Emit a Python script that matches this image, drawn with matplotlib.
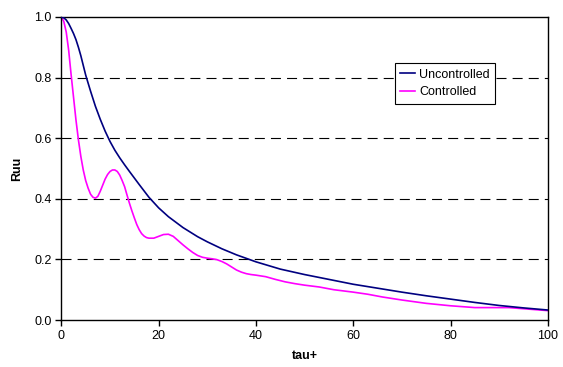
import matplotlib.pyplot as plt

plt.rcParams['font.family'] = ['Liberation Sans', 'DejaVu Sans']

# uncontrolled correlation
tau_unc = [0, 0.5, 1, 1.5, 2, 2.5, 3, 3.5, 4, 4.5, 5, 6, 7, 8, 9, 10, 11, 12, 13, 14,
           16, 18, 20, 22, 25, 28, 30, 33, 36, 40, 45, 50, 55, 60, 65, 70, 75, 80, 85,
           90, 95, 100]
ruu_unc = [1.0, 0.997, 0.99, 0.978, 0.962, 0.945, 0.925, 0.9, 0.872, 0.84, 0.808,
           0.755, 0.705, 0.662, 0.623, 0.589, 0.56, 0.535, 0.512, 0.49, 0.447, 0.405,
           0.370, 0.341, 0.305, 0.275, 0.258, 0.235, 0.215, 0.192, 0.168, 0.15, 0.134,
           0.118, 0.105, 0.092, 0.08, 0.069, 0.058, 0.048, 0.04, 0.033]

# controlled correlation
tau_con = [0, 0.5, 1, 1.5, 2, 2.5, 3, 3.5, 4, 4.5, 5, 5.5, 6, 6.5, 7, 7.5, 8, 8.5, 9,
           9.5, 10, 10.5, 11, 11.5, 12, 12.5, 13, 13.5, 14, 14.5, 15, 15.5, 16, 16.5,
           17, 17.5, 18, 19, 20, 21, 22, 23, 24, 25, 26, 27, 28, 29, 30, 31, 32, 33,
           34, 35, 36, 37, 38, 39, 40, 42, 44, 46, 48, 50, 53, 56, 60, 63, 66, 70, 75,
           80, 85, 88, 92, 96, 100]
ruu_con = [1.0, 0.985, 0.95, 0.89, 0.81, 0.735, 0.66, 0.595, 0.54, 0.495, 0.46, 0.435,
           0.415, 0.405, 0.402, 0.408, 0.425, 0.445, 0.465, 0.48, 0.49, 0.495, 0.495,
           0.49, 0.478, 0.46, 0.44, 0.412, 0.385, 0.36, 0.337, 0.315, 0.298, 0.285,
           0.277, 0.272, 0.27, 0.27, 0.276, 0.282, 0.283, 0.276, 0.262, 0.248, 0.235,
           0.223, 0.213, 0.207, 0.204, 0.202, 0.199, 0.193, 0.185, 0.175, 0.165, 0.158,
           0.153, 0.15, 0.148, 0.143, 0.134, 0.126, 0.12, 0.115, 0.109, 0.10, 0.092,
           0.085, 0.076, 0.066, 0.055, 0.047, 0.041, 0.041, 0.041, 0.036, 0.031]

fig = plt.figure(figsize=(5.63, 3.67), dpi=100)
ax = fig.add_axes([0.109, 0.128, 0.864, 0.826])

for yv in [0.2, 0.4, 0.6, 0.8]:
    ax.axhline(yv, color='k', linestyle=(0, (9, 5.5)), linewidth=0.8, zorder=1)

ax.plot(tau_unc, ruu_unc, color='#000080', linewidth=1.2, label='Uncontrolled', zorder=3)
ax.plot(tau_con, ruu_con, color='#FF00FF', linewidth=1.2, label='Controlled', zorder=2)

ax.set_xlim(0, 100)
ax.set_ylim(0, 1.0)
ax.set_xticks([0, 20, 40, 60, 80, 100])
ax.set_yticks([0, 0.2, 0.4, 0.6, 0.8, 1.0])
ax.set_yticklabels(['0.0', '0.2', '0.4', '0.6', '0.8', '1.0'])
ax.tick_params(labelsize=9, length=4, width=1, direction='out', pad=3)
for s in ax.spines.values():
    s.set_linewidth(1)

ax.set_xlabel('tau+', fontweight='bold', fontsize=9, labelpad=6)
ax.set_ylabel('Ruu', fontweight='bold', fontsize=9, labelpad=8)

leg = ax.legend(loc='upper left', bbox_to_anchor=(0.685, 0.848), fontsize=9,
                fancybox=False, framealpha=1, edgecolor='k', handlelength=1.2,
                handletextpad=0.3, borderpad=0.45, labelspacing=0.45, borderaxespad=0)
leg.get_frame().set_linewidth(0.8)

plt.savefig('out.png', dpi=100)
